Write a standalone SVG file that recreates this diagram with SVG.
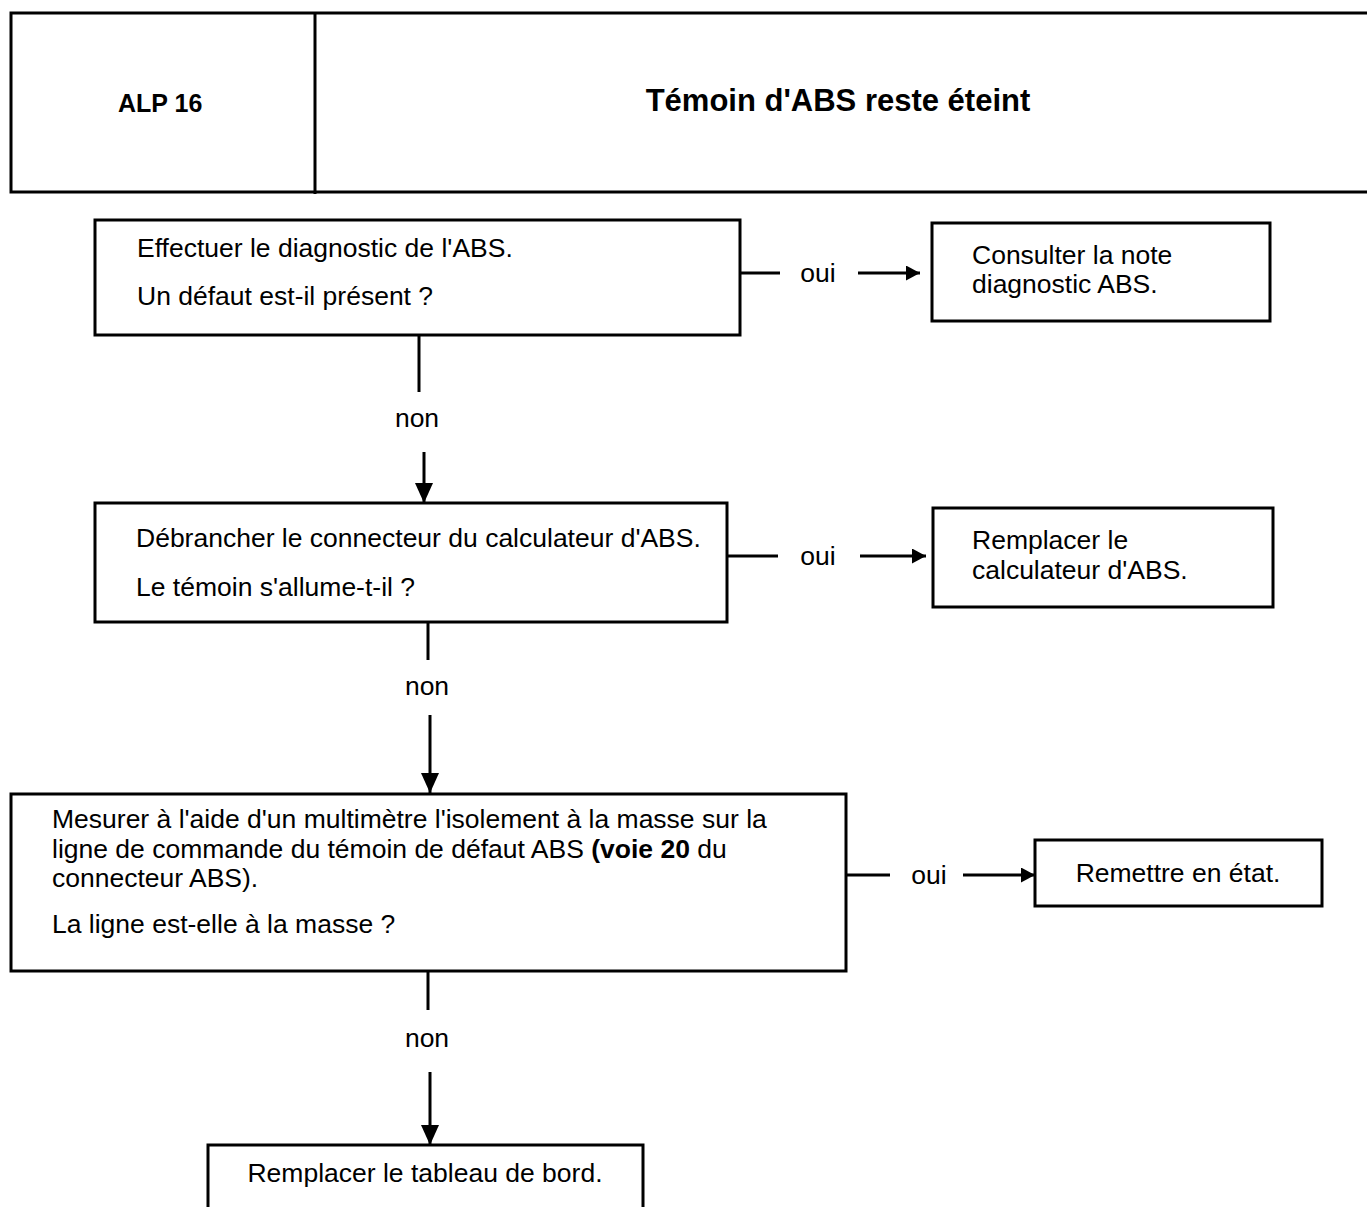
<svg xmlns="http://www.w3.org/2000/svg" width="1367" height="1207" viewBox="0 0 1367 1207">
  <style>
    .frame { fill: none; stroke: #000; stroke-width: 3; }
    .box { fill: #fff; stroke: #000; stroke-width: 3; }
    .wire { fill: none; stroke: #000; stroke-width: 3; }
    .txt { font-family: "Liberation Sans", Arial, sans-serif; font-size: 26.5px; fill: #000; }
    .lbl { font-family: "Liberation Sans", Arial, sans-serif; font-size: 26.5px; fill: #000; text-anchor: middle; }
    .hd { font-family: "Liberation Sans", Arial, sans-serif; font-weight: bold; fill: #000; }
  </style>
  <defs>
    <!-- arrowhead for horizontal "oui" branches -->
    <marker id="arrow-h" viewBox="0 0 14 15" refX="14" refY="7.5" markerWidth="14" markerHeight="15" markerUnits="userSpaceOnUse" orient="auto">
      <path d="M0,0 L14,7.5 L0,15 Z" fill="#000"/>
    </marker>
    <!-- larger arrowhead for the vertical "non" branches -->
    <marker id="arrow-v" viewBox="0 0 20 18" refX="20" refY="9" markerWidth="20" markerHeight="18" markerUnits="userSpaceOnUse" orient="auto">
      <path d="M0,0 L20,9 L0,18 Z" fill="#000"/>
    </marker>
  </defs>
  <rect width="1367" height="1207" fill="#fff"/>

  <!-- title block -->
  <g id="header">
    <path class="frame" d="M1367,13 H11 V192 H1367"/>
    <line class="frame" x1="315" y1="13" x2="315" y2="194"/>
    <text class="hd" x="118" y="112" font-size="25">ALP 16</text>
    <text class="hd" x="838" y="111" font-size="31" text-anchor="middle">Témoin d'ABS reste éteint</text>
  </g>

  <!-- connectors -->
  <g id="connectors">
    <line class="wire" x1="740" y1="273" x2="780" y2="273"/>
    <text class="lbl" x="818" y="282">oui</text>
    <line class="wire" x1="858" y1="273" x2="920" y2="273" marker-end="url(#arrow-h)"/>

    <line class="wire" x1="419" y1="335" x2="419" y2="392"/>
    <text class="lbl" x="417" y="427">non</text>
    <line class="wire" x1="424" y1="452" x2="424" y2="503" marker-end="url(#arrow-v)"/>

    <line class="wire" x1="727" y1="556" x2="778" y2="556"/>
    <text class="lbl" x="818" y="565">oui</text>
    <line class="wire" x1="860" y1="556" x2="926" y2="556" marker-end="url(#arrow-h)"/>

    <line class="wire" x1="428" y1="622" x2="428" y2="660"/>
    <text class="lbl" x="427" y="695">non</text>
    <line class="wire" x1="430" y1="715" x2="430" y2="793" marker-end="url(#arrow-v)"/>

    <line class="wire" x1="846" y1="875" x2="890" y2="875"/>
    <text class="lbl" x="929" y="884">oui</text>
    <line class="wire" x1="963" y1="875" x2="1035" y2="875" marker-end="url(#arrow-h)"/>

    <line class="wire" x1="428" y1="971" x2="428" y2="1010"/>
    <text class="lbl" x="427" y="1047">non</text>
    <line class="wire" x1="430" y1="1072" x2="430" y2="1145" marker-end="url(#arrow-v)"/>
  </g>

  <!-- step: run ABS diagnosis -->
  <g id="step-diagnostic">
    <rect class="box" x="95" y="220" width="645" height="115"/>
    <text class="txt" x="137" y="257">Effectuer le diagnostic de l'ABS.</text>
    <text class="txt" x="137" y="305">Un défaut est-il présent ?</text>
  </g>

  <g id="action-note">
    <rect class="box" x="932" y="223" width="338" height="98"/>
    <text class="txt" x="972" y="264">Consulter la note</text>
    <text class="txt" x="972" y="293">diagnostic ABS.</text>
  </g>

  <!-- step: unplug ECU connector -->
  <g id="step-connector">
    <rect class="box" x="95" y="503" width="632" height="119"/>
    <text class="txt" x="136" y="547">Débrancher le connecteur du calculateur d'ABS.</text>
    <text class="txt" x="136" y="596">Le témoin s'allume-t-il ?</text>
  </g>

  <g id="action-ecu">
    <rect class="box" x="933" y="508" width="340" height="99"/>
    <text class="txt" x="972" y="549">Remplacer le</text>
    <text class="txt" x="972" y="579">calculateur d'ABS.</text>
  </g>

  <!-- step: insulation check of warning lamp line -->
  <g id="step-insulation">
    <rect class="box" x="11" y="794" width="835" height="177"/>
    <text class="txt" x="52" y="828">Mesurer à l'aide d'un multimètre l'isolement à la masse sur la</text>
    <text class="txt" x="52" y="858">ligne de commande du témoin de défaut ABS <tspan font-weight="bold">(voie 20</tspan> du</text>
    <text class="txt" x="52" y="887">connecteur ABS).</text>
    <text class="txt" x="52" y="933">La ligne est-elle à la masse ?</text>
  </g>

  <g id="action-repair">
    <rect class="box" x="1035" y="840" width="287" height="66"/>
    <text class="lbl" x="1178" y="882">Remettre en état.</text>
  </g>

  <g id="action-dashboard">
    <path class="box" d="M208,1210 V1145 H643 V1210"/>
    <text class="lbl" x="425" y="1182">Remplacer le tableau de bord.</text>
  </g>
</svg>
